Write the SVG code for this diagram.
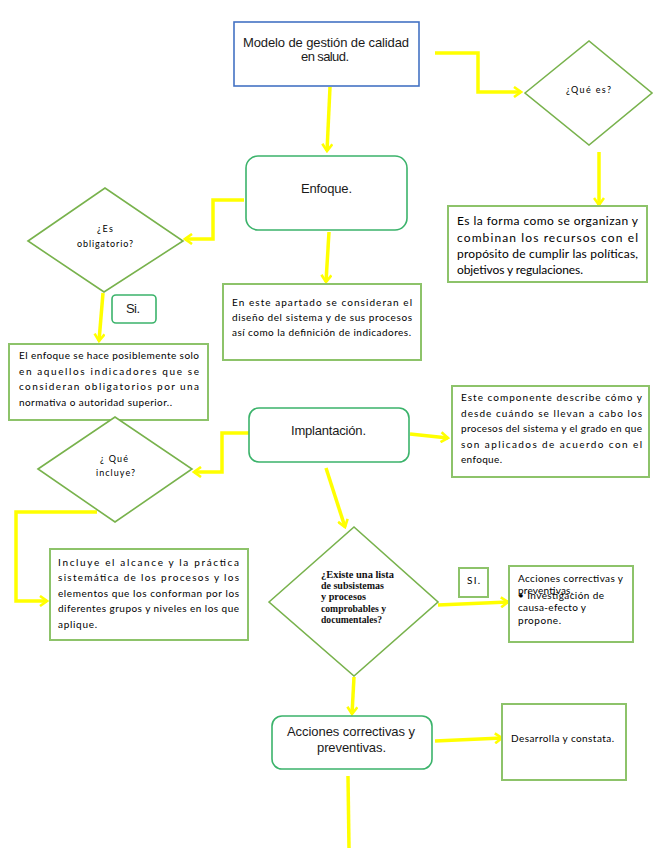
<svg xmlns="http://www.w3.org/2000/svg" width="655" height="848" viewBox="0 0 655 848">
<style>
  .bg { fill: #ffffff; }
  .blue { fill: #ffffff; stroke: #4472C4; stroke-width: 1.6; }
  .round { fill: #ffffff; stroke: #3BB36B; stroke-width: 1.6; }
  .box { fill: #ffffff; stroke: #8DC36A; stroke-width: 2; }
  .dia { fill: #ffffff; stroke: #78B24C; stroke-width: 1.6; }
  .title { font-family: "Liberation Sans", Arial, sans-serif; font-size: 13px; fill: #1a1a1a; }
  .body { font-family: Lato, "Open Sans", sans-serif; font-size: 10px; fill: #000000; }
  .bodyL { font-family: Lato, "Open Sans", sans-serif; font-size: 12px; fill: #000000; }
  .small { font-family: Lato, "Open Sans", sans-serif; font-size: 9px; fill: #000000; }
  .serif { font-family: "Liberation Serif", "Times New Roman", serif; font-size: 10.5px; font-weight: bold; fill: #111111; }
  .conn { fill: none; stroke: #FFFF00; stroke-width: 3.5; stroke-linejoin: miter; }
</style>
<defs>
  <marker id="arr" viewBox="0 0 12 12" markerWidth="12" markerHeight="12" refX="10" refY="6" orient="auto" markerUnits="userSpaceOnUse">
    <path d="M3,1 L10,6 L3,11" fill="none" stroke="#FFFF00" stroke-width="2.6"/>
  </marker>
</defs>
<rect class="bg" x="0" y="0" width="655" height="848"/>

<g id="connectors">
  <path class="conn" d="M330,87 L327,151" marker-end="url(#arr)"/>
  <path class="conn" d="M435,53 L478,53 L478,92 L521,92" marker-end="url(#arr)"/>
  <path class="conn" d="M599,152 L599,205" marker-end="url(#arr)"/>
  <path class="conn" d="M244,200 L213,200 L213,239 L185,239" marker-end="url(#arr)"/>
  <path class="conn" d="M329,232 L326,282" marker-end="url(#arr)"/>
  <path class="conn" d="M103,293 L99,341" marker-end="url(#arr)"/>
  <path class="conn" d="M410,434 L448,438" marker-end="url(#arr)"/>
  <path class="conn" d="M249,433 L222,433 L222,472 L194,472" marker-end="url(#arr)"/>
  <path class="conn" d="M97,512 L16,512 L16,601 L47,601" marker-end="url(#arr)"/>
  <path class="conn" d="M326,468 L345,527" marker-end="url(#arr)"/>
  <path class="conn" d="M438,605 L508,602" marker-end="url(#arr)"/>
  <path class="conn" d="M354,677 L352,714" marker-end="url(#arr)"/>
  <path class="conn" d="M435,741 L502,738" marker-end="url(#arr)"/>
  <path class="conn" d="M348,776 L349,848"/>
</g>

<g id="modelo">
  <rect class="blue" x="234" y="22" width="185" height="64"/>
  <text class="title" x="243" y="47" textLength="166">Modelo de gestión de calidad</text>
  <text class="title" x="301" y="61" textLength="48">en salud.</text>
</g>

<g id="que-es">
  <polygon class="dia" points="525,93 589,41 652,93 589,145"/>
  <text class="small" x="566" y="93" textLength="45">¿Qué es?</text>
</g>

<g id="definicion">
  <rect class="box" x="448" y="206" width="199" height="76"/>
  <text class="bodyL" x="457" y="225" textLength="181">Es la forma como se organizan y</text>
  <text class="bodyL" x="457" y="242" textLength="181">combinan los recursos con el</text>
  <text class="bodyL" x="457" y="258" textLength="181">propósito de cumplir las políticas,</text>
  <text class="bodyL" x="457" y="274" textLength="126">objetivos y regulaciones.</text>
</g>

<g id="enfoque">
  <rect class="round" x="246" y="156" width="161" height="74" rx="12"/>
  <text class="title" x="301" y="193" textLength="51">Enfoque.</text>
</g>

<g id="es-obligatorio">
  <polygon class="dia" points="28,241 105,188 183,241 104,292"/>
  <text class="small" x="97" y="232" textLength="16">¿Es</text>
  <text class="small" x="77" y="247" textLength="56">obligatorio?</text>
</g>

<g id="apartado">
  <rect class="box" x="223" y="284" width="198" height="76"/>
  <text class="body" x="232" y="306" textLength="180">En este apartado se consideran el</text>
  <text class="body" x="232" y="321" textLength="180">diseño del sistema y de sus procesos</text>
  <text class="body" x="232" y="336" textLength="179">así como la definición de indicadores.</text>
</g>

<g id="si-1">
  <rect class="round" x="112" y="295" width="44" height="28" rx="4"/>
  <text class="title" x="126" y="313" textLength="14">Si.</text>
</g>

<g id="obligatorio-texto">
  <rect class="box" x="9" y="344" width="199" height="76"/>
  <text class="body" x="19" y="359" textLength="180">El enfoque se hace posiblemente solo</text>
  <text class="body" x="19" y="375" textLength="180">en aquellos indicadores que se</text>
  <text class="body" x="19" y="390" textLength="180">consideran obligatorios por una</text>
  <text class="body" x="19" y="406" textLength="153">normativa o autoridad superior..</text>
</g>

<g id="implantacion">
  <rect class="round" x="249" y="408" width="160" height="54" rx="10"/>
  <text class="title" x="291" y="435" textLength="75">Implantación.</text>
</g>

<g id="componente">
  <rect class="box" x="452" y="386" width="197" height="91"/>
  <text class="body" x="461" y="401" textLength="181">Este componente describe cómo y</text>
  <text class="body" x="461" y="417" textLength="181">desde cuándo se llevan a cabo los</text>
  <text class="body" x="461" y="432" textLength="181">procesos del sistema y el grado en que</text>
  <text class="body" x="461" y="448" textLength="181">son aplicados de acuerdo con el</text>
  <text class="body" x="461" y="463" textLength="41">enfoque.</text>
</g>

<g id="que-incluye">
  <polygon class="dia" points="38,469 115,417 192,469 115,522"/>
  <text class="small" x="100" y="462" textLength="28">¿ Qué</text>
  <text class="small" x="96" y="476" textLength="39">incluye?</text>
</g>

<g id="incluye-texto">
  <rect class="box" x="50" y="549" width="198" height="91"/>
  <text class="body" x="58" y="566" textLength="181">Incluye el alcance y la práctica</text>
  <text class="body" x="58" y="581" textLength="181">sistemática de los procesos y los</text>
  <text class="body" x="58" y="597" textLength="181">elementos que los conforman por los</text>
  <text class="body" x="58" y="612" textLength="181">diferentes grupos y niveles en los que</text>
  <text class="body" x="58" y="628" textLength="39">aplique.</text>
</g>

<g id="existe-lista">
  <polygon class="dia" points="269,602 354,527 438,602 354,676"/>
  <text class="serif" x="321" y="578" textLength="73" lengthAdjust="spacingAndGlyphs">¿Existe una lista</text>
  <text class="serif" x="321" y="589" textLength="63" lengthAdjust="spacingAndGlyphs">de subsistemas</text>
  <text class="serif" x="321" y="600" textLength="45" lengthAdjust="spacingAndGlyphs">y procesos</text>
  <text class="serif" x="321" y="612" textLength="65" lengthAdjust="spacingAndGlyphs">comprobables y</text>
  <text class="serif" x="321" y="623" textLength="61" lengthAdjust="spacingAndGlyphs">documentales?</text>
</g>

<g id="si-2">
  <rect class="box" x="459" y="568" width="29" height="29"/>
  <text class="body" x="467" y="584" textLength="13">SI.</text>
</g>

<g id="acciones-investigacion">
  <rect class="box" x="509" y="566" width="124" height="76"/>
  <text class="body" x="518" y="582" textLength="105">Acciones correctivas y</text>
  <text class="body" x="518" y="594" textLength="55">preventivas.</text>
  <text class="body" x="518" y="599" textLength="86">• Investigación de</text>
  <text class="body" x="518" y="611" textLength="68">causa-efecto y</text>
  <text class="body" x="518" y="624" textLength="43">propone.</text>
</g>

<g id="acciones">
  <rect class="round" x="272" y="716" width="160" height="53" rx="10"/>
  <text class="title" x="287" y="736" textLength="128">Acciones correctivas y</text>
  <text class="title" x="317" y="752" textLength="69">preventivas.</text>
</g>

<g id="desarrolla">
  <rect class="box" x="502" y="704" width="124" height="76"/>
  <text class="body" x="511" y="742" textLength="103">Desarrolla y constata.</text>
</g>
</svg>
